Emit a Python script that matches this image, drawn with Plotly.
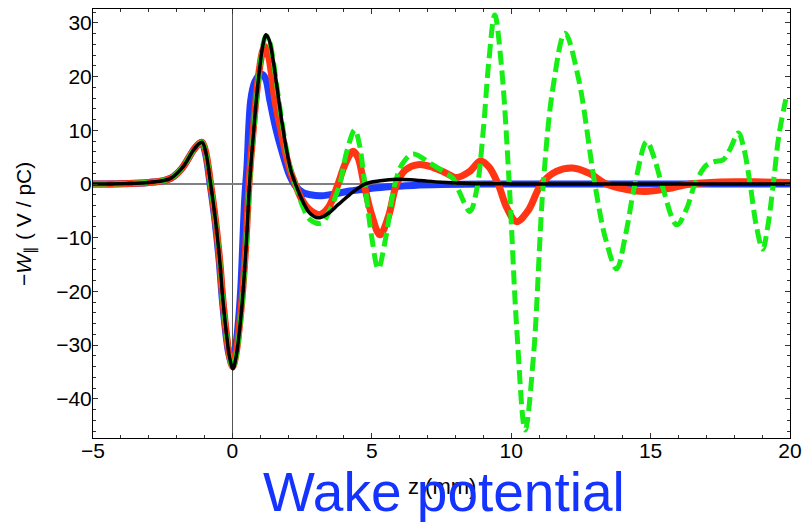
import plotly.graph_objects as go

# Longitudinal wake potential -W_par (V/pC) versus z (mm) for four models
z_black = [-5, -4, -3, -2.5, -2.2, -1.8, -1.4, -1.2, -1.08, -0.95, -0.78, -0.6, -0.45, -0.34, -0.2,
           -0.1, 0.02, 0.14, 0.25, 0.36, 0.5, 0.62, 0.75, 0.86, 1.0, 1.1, 1.2, 1.32, 1.45, 1.58,
           1.75, 1.94, 2.1, 2.3, 2.55, 2.77, 3.07, 3.4, 3.8, 4.2, 4.75, 5.3, 5.9, 6.6, 7.5, 8.5,
           10, 12, 15, 18, 20]
w_black = [0.0, 0.05, 0.3, 0.6, 1.1, 3.0, 6.3, 7.5, 7.75, 5.8, 0.0, -7.0, -14.5, -21.6, -28.5,
           -32.3, -34.4, -32.0, -27.5, -21.6, -11.0, 0.5, 9.0, 15.7, 22.5, 26.0, 27.8, 26.8, 23.5, 18.8,
           12.5, 6.4, 2.5, -0.5, -3.5, -5.4, -6.3, -5.6, -3.8, -2.0, 0.0, 0.6, 0.9, 0.7, 0.35, 0.12,
           0.03, 0.0, 0.0, 0.0, 0.0]

z_blue = [-5, -4, -3, -2.5, -2.2, -1.8, -1.4, -1.2, -1.1, -0.97, -0.8, -0.62, -0.47, -0.36, -0.22,
          -0.12, -0.01, 0.1, 0.2, 0.3, 0.44, 0.52, 0.66, 0.8, 0.95, 1.08, 1.2, 1.34, 1.55, 1.76,
          2.06, 2.24, 2.53, 2.8, 3.13, 3.6, 4.2, 5.0, 5.6, 6.5, 7.5, 9, 12, 15, 18, 20]
w_blue = [0.0, 0.05, 0.3, 0.6, 1.1, 3.0, 6.3, 7.5, 7.75, 5.8, 0.0, -7.0, -14.5, -21.6, -28.5,
          -31.8, -33.5, -31.0, -26.5, -19.5, -2.9, 3.0, 15.7, 19.0, 20.2, 20.4, 19.5, 15.7, 10.5, 6.4,
          1.5, -0.2, -1.6, -2.0, -2.2, -1.9, -1.3, -0.8, -0.5, -0.25, -0.1, 0.0, 0.0, 0.0, 0.0, 0.0]

z_red = [-5, -4, -3, -2.5, -2.2, -1.8, -1.4, -1.2, -1.08, -0.95, -0.78, -0.6, -0.45, -0.34, -0.2,
         -0.1, 0.01, 0.13, 0.24, 0.35, 0.49, 0.6, 0.73, 0.84, 0.98, 1.08, 1.16, 1.28, 1.4, 1.52,
         1.72, 1.92, 2.08, 2.25, 2.5, 2.77, 3.13, 3.45, 3.79, 4.05, 4.33, 4.5, 4.72, 5.0, 5.29,
         5.6, 5.89, 6.2, 6.66, 7.08, 7.6, 8.04, 8.5, 8.9, 9.2, 9.53, 9.85, 10.19, 10.6, 11.08,
         11.6, 12.2, 12.8, 13.42, 14.1, 14.8, 15.6, 16.4, 17.5, 19, 20]
w_red = [0.0, 0.05, 0.3, 0.6, 1.1, 3.0, 6.3, 7.5, 7.75, 5.8, 0.0, -7.0, -14.5, -21.6, -28.5,
         -32.1, -34.0, -31.6, -27.0, -21.0, -10.5, 0.5, 9.0, 15.5, 21.8, 24.7, 25.6, 24.2, 20.5, 15.7,
         10.5, 5.5, 2.4, 0.0, -3.0, -4.8, -5.7, -4.3, 0.0, 3.8, 6.1, 5.0, 0.0, -5.8, -9.45,
         -6.0, 0.0, 2.6, 3.6, 3.3, 2.2, 1.2, 2.3, 4.3, 3.2, 0.0, -4.5, -7.0, -5.0, 0.0,
         2.3, 3.0, 2.0, 0.0, -1.0, -1.4, -0.9, 0.0, 0.4, 0.4, 0.3]

z_green = [-5, -4, -3, -2.5, -2.2, -1.8, -1.4, -1.2, -1.08, -0.95, -0.78, -0.6, -0.45, -0.34, -0.2,
           -0.1, 0.02, 0.14, 0.25, 0.36, 0.5, 0.62, 0.75, 0.86, 1.0, 1.1, 1.2, 1.32, 1.45, 1.58,
           1.75, 1.94, 2.1, 2.3, 2.55, 2.8, 3.19, 3.5, 3.85, 4.1, 4.39, 4.55, 4.75, 5.0, 5.23,
           5.5, 5.83, 6.1, 6.48, 7.08, 7.56, 7.92, 8.16, 8.52, 8.76, 9.0, 9.2, 9.41, 9.65, 9.93,
           10.2, 10.5, 10.8, 11.15, 11.5, 11.93, 12.4, 13.0, 13.4, 13.78, 14.1, 14.44, 14.86, 15.12,
           15.4, 15.94, 16.3, 16.59, 17.0, 17.31, 17.6, 17.85, 18.15, 18.35, 18.57, 18.8, 19.02,
           19.2, 19.4, 19.6, 19.85]
w_green = [0.0, 0.05, 0.3, 0.6, 1.1, 3.0, 6.3, 7.5, 7.75, 5.8, 0.0, -7.0, -14.5, -21.6, -28.5,
           -32.3, -34.4, -32.0, -27.5, -21.6, -11.0, 0.5, 9.0, 15.7, 22.5, 26.0, 27.6, 26.8, 23.5, 18.8,
           12.5, 6.4, 2.5, -0.8, -4.5, -6.7, -7.3, -4.8, 0.0, 6.0, 10.1, 7.5, 0.0, -10.0, -15.8,
           -10.0, 0.0, 3.8, 5.6, 3.9, 2.35, 1.0, -1.7, -5.1, -1.1, 10.1, 23.0, 31.5, 22.0, 0.0,
           -27.0, -45.8, -32.0, 0.0, 18.0, 28.1, 20.0, 0.0, -10.5, -15.8, -9.5, 0.0, 7.9, 5.0,
           0.0, -7.6, -4.5, 0.0, 3.5, 4.2, 4.5, 6.5, 9.5, 6.5, 0.0, -8.0, -12.1,
           -8.0, 0.0, 9.0, 15.8]

fig = go.Figure()

line_opts = dict(shape="spline", smoothing=1.0)
fig.add_trace(go.Scatter(x=z_blue, y=w_blue, mode="lines",
                         line=dict(color="#1f3dff", width=7, **line_opts), showlegend=False))
fig.add_trace(go.Scatter(x=z_red, y=w_red, mode="lines",
                         line=dict(color="#ff3514", width=7, **line_opts), showlegend=False))
fig.add_trace(go.Scatter(x=z_green, y=w_green, mode="lines",
                         line=dict(color="#16ee16", width=5, dash="14px,6px", **line_opts),
                         showlegend=False))
fig.add_trace(go.Scatter(x=z_black, y=w_black, mode="lines",
                         line=dict(color="#000000", width=3.5, **line_opts), showlegend=False))

tick_font = dict(family="Liberation Sans, Arial, sans-serif", size=21, color="#000000")

fig.update_xaxes(
    range=[-5, 20], showgrid=False, automargin=False,
    showline=True, linecolor="#000000", linewidth=1, mirror="allticks",
    ticks="inside", ticklen=5, tickwidth=1, tickcolor="#333333",
    tickvals=[-5, 0, 5, 10, 15, 20], ticktext=["−5", "0", "5", "10", "15", "20"],
    minor=dict(dtick=1, ticks="inside", ticklen=3, tickcolor="#333333", showgrid=False),
    tickfont=tick_font, ticklabelstandoff=-6,
    zeroline=True, zerolinecolor="#555555", zerolinewidth=1,
)
fig.update_yaxes(
    range=[-47.3, 32.6], showgrid=False, automargin=False,
    showline=True, linecolor="#000000", linewidth=1, mirror="allticks",
    ticks="inside", ticklen=5, tickwidth=1, tickcolor="#333333",
    tickvals=[-40, -30, -20, -10, 0, 10, 20, 30],
    ticktext=["−40", "−30", "−20", "−10", "0", "10", "20", "30"],
    minor=dict(dtick=2, ticks="inside", ticklen=3, tickcolor="#333333", showgrid=False),
    tickfont=tick_font, ticklabelstandoff=-4,
    zeroline=True, zerolinecolor="#808080", zerolinewidth=1.5,
)

fig.update_layout(
    width=803, height=522,
    margin=dict(l=93, r=13, t=9, b=84),
    paper_bgcolor="white", plot_bgcolor="white",
    annotations=[
        dict(text="−<i>W</i><sub>∥</sub> ( V / pC)", xref="paper", yref="paper",
             x=-0.097, y=0.5, xanchor="center", yanchor="middle", textangle=-90,
             showarrow=False, font=dict(family="Liberation Sans, Arial, sans-serif", size=21,
                                        color="#000000")),
        dict(text="z (mm)", xref="paper", yref="paper",
             x=0.5, y=-0.114, xanchor="center", yanchor="middle", showarrow=False,
             font=dict(family="Liberation Sans, Arial, sans-serif", size=22, color="#000000")),
        dict(text="Wake potential", xref="paper", yref="paper",
             x=0.503, y=-0.126, xanchor="center", yanchor="middle", showarrow=False,
             font=dict(family="Liberation Sans, Arial, sans-serif", size=55, color="#1433ff")),
    ],
)

fig.write_html("out.html")
